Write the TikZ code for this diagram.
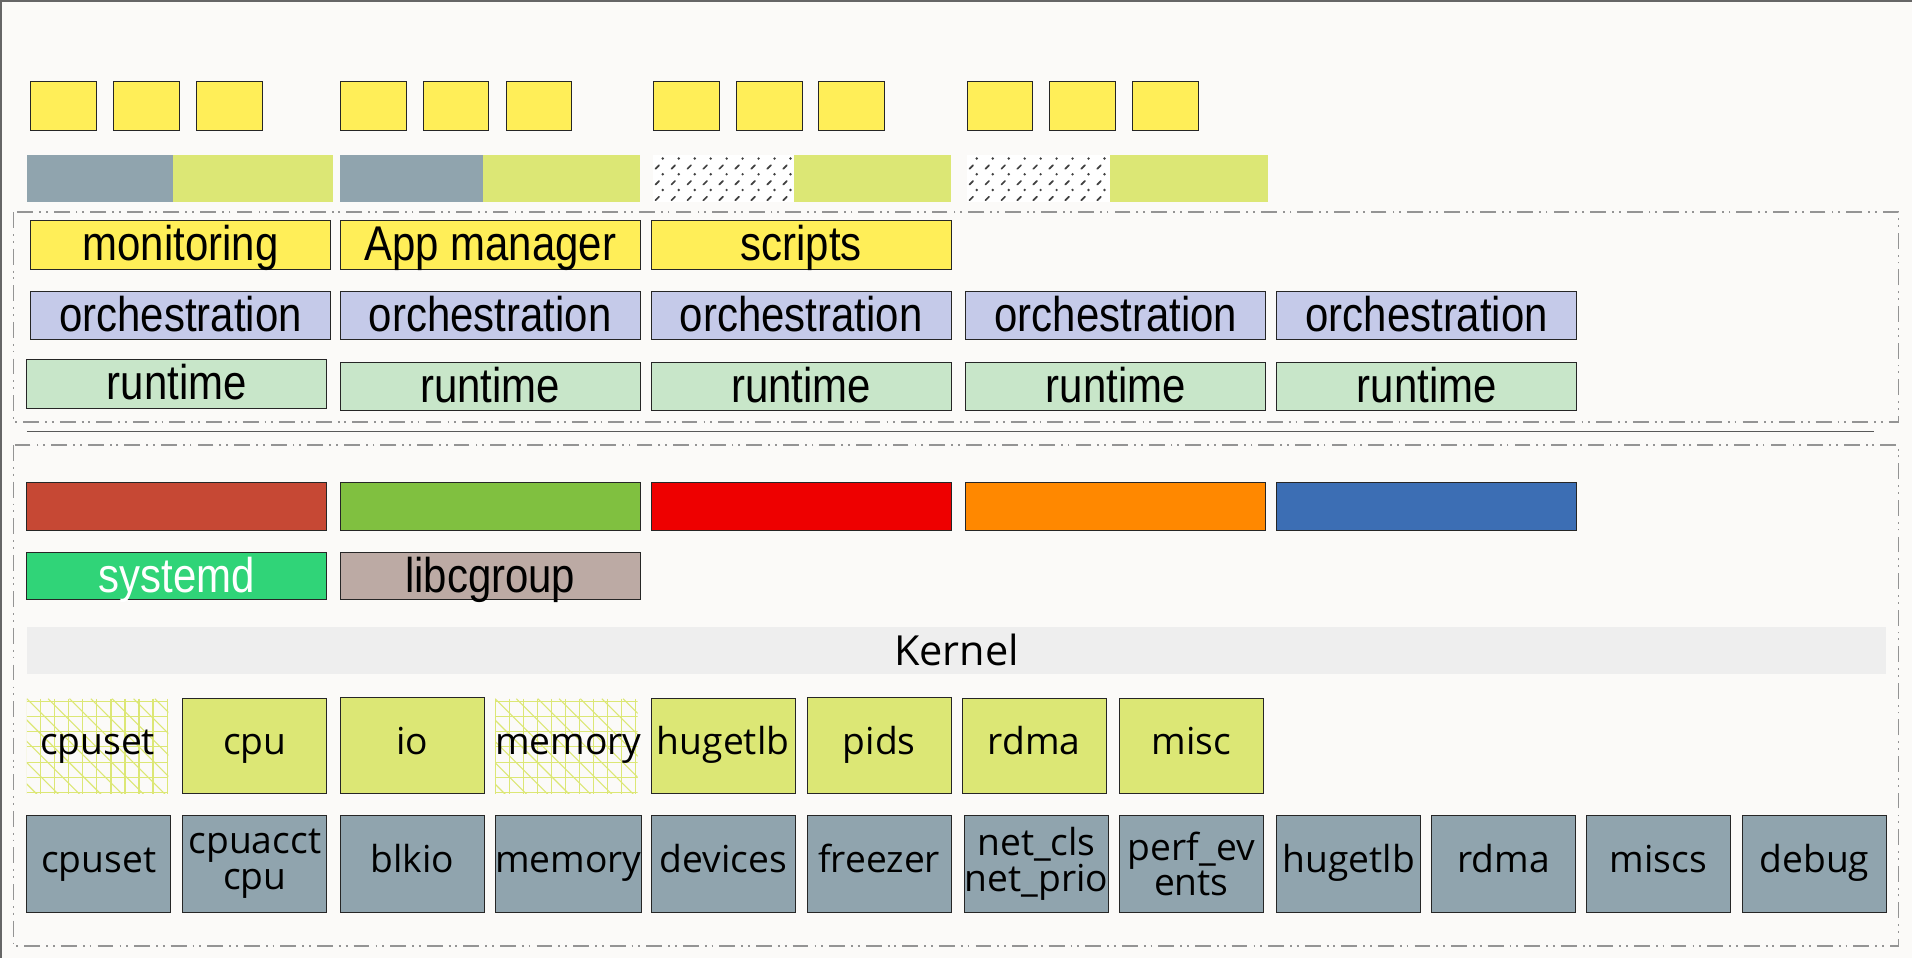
\documentclass[tikz,border=0pt]{standalone}
\usepackage{fontspec}
\setmainfont{Open Sans}
\newfontfamily\narrowfont{Liberation Sans}[FakeStretch=0.86]
\definecolor{cbg}{HTML}{FBFAF8}
\definecolor{cyel}{HTML}{FFEE58}
\definecolor{cgb}{HTML}{90A4AE}
\definecolor{cyg}{HTML}{DCE775}
\definecolor{clav}{HTML}{C5CAE9}
\definecolor{cmint}{HTML}{C8E6C9}
\definecolor{cbrick}{HTML}{C64834}
\definecolor{cgrass}{HTML}{80C040}
\definecolor{cred}{HTML}{EE0000}
\definecolor{corange}{HTML}{FF8800}
\definecolor{cblue}{HTML}{3C6EB4}
\definecolor{csysd}{HTML}{30D478}
\definecolor{clib}{HTML}{BCAAA4}
\definecolor{ckern}{HTML}{EEEEEE}
\newcommand\mybox[7]{\node[#2, anchor=north west, minimum width={(#5)-(#3)}, minimum height={(#6)-(#4)}] (#1) at (#3,#4) {#7};}
\newcommand\hatchpat[4]{%
  \begin{scope}
    \clip (#1,#2) rectangle (#3,#4);
    \foreach \i in {0,...,12} {\draw[hatchline] ({#1+\i*11.5},#2) -- ++(0,{#4-#2});}
    \foreach \j in {0,...,8} {\draw[hatchline] (#1,{#2+2+\j*12.5}) -- ++({#3-#1},0);}
    \foreach \k in {-6,...,8} {\draw[hatchline] ({#1+\k*17.5},#2) -- ++(90,90);}
  \end{scope}}
\newcommand\dotpat[4]{%
  \begin{scope}
    \fill[white] (#1,#2) rectangle (#3,#4);
    \clip (#1,#2) rectangle (#3,#4);
    \foreach \r in {0,...,3} {
      \foreach \c in {0,...,9} {
        \fill[black!75] ({#1+8+\c*13.1},{#2+3+\r*12.9}) circle (1.1);
        \draw[black!75, line width=1.4pt, line cap=round] ({#1+2+\c*13.1},{#2+11.5+\r*12.9}) -- ++(3,-3);
      }}
  \end{scope}}
\begin{document}
\begin{tikzpicture}[x=1pt, y=-1pt,
  bxs/.style={draw=black!85, line width=0.8pt, inner sep=0pt, outer sep=0pt},
  plain/.style={inner sep=0pt, outer sep=0pt},
  sq/.style={bxs, fill=cyel},
  nlab/.style={font=\narrowfont\fontsize{40}{44}\selectfont, text height=29pt, text depth=3pt},
  olab/.style={font=\fontsize{30.5}{29.5}\selectfont, text height=22pt, text depth=8pt},
  olab2/.style={font=\fontsize{30.5}{29.5}\selectfont, align=center},
  hatchline/.style={draw=cyg, line width=0.9pt},
  dashbox/.style={draw=black!42, line width=1.3pt, dash pattern=on 13pt off 5pt on 1.5pt off 4pt on 1.5pt off 5pt},
  frame/.style={draw=black!60, line width=1.5pt}]
\useasboundingbox (0,0) rectangle (1568,785.6);
\fill[cbg] (0,0) rectangle (1568,785.6);
\draw[frame] (1,785.6) -- (1,0.7) -- (1568,0.7);

% row 1: yellow squares
\mybox{s1}{sq}{25}{67}{79}{107}{}
\mybox{s2}{sq}{93}{67}{147}{107}{}
\mybox{s3}{sq}{161}{67}{215}{107}{}
\mybox{s4}{sq}{279}{67}{333}{107}{}
\mybox{s5}{sq}{347}{67}{401}{107}{}
\mybox{s6}{sq}{415}{67}{469}{107}{}
\mybox{s7}{sq}{536}{67}{590}{107}{}
\mybox{s8}{sq}{604}{67}{658}{107}{}
\mybox{s9}{sq}{671}{67}{725}{107}{}
\mybox{s10}{sq}{793}{67}{847}{107}{}
\mybox{s11}{sq}{861}{67}{915}{107}{}
\mybox{s12}{sq}{929}{67}{983}{107}{}

% row 2: bars
\mybox{b1a}{plain, fill=cgb}{22}{127}{142}{166}{}
\mybox{b1b}{plain, fill=cyg}{142}{127}{273}{166}{}
\mybox{b2a}{plain, fill=cgb}{279}{127}{396}{166}{}
\mybox{b2b}{plain, fill=cyg}{396}{127}{525}{166}{}
\dotpat{535.5}{127}{651}{166}
\mybox{b3a}{plain}{535.5}{127}{651}{166}{}
\mybox{b3b}{plain, fill=cyg}{651}{127}{780}{166}{}
\dotpat{793}{127}{910}{166}
\mybox{b4a}{plain}{793}{127}{910}{166}{}
\mybox{b4b}{plain, fill=cyg}{910}{127}{1040}{166}{}

% upper dash-dot container
\draw[dashbox] (11,174) rectangle (1557,346);
\mybox{mon}{bxs, fill=cyel, nlab}{25}{181}{271}{221}{monitoring}
\mybox{app}{bxs, fill=cyel, nlab}{279}{181}{525}{221}{App manager}
\mybox{scr}{bxs, fill=cyel, nlab}{534}{181}{780}{221}{scripts}
\mybox{o1}{bxs, fill=clav, nlab}{25}{239}{271}{278}{orchestration}
\mybox{o2}{bxs, fill=clav, nlab}{279}{239}{525}{278}{orchestration}
\mybox{o3}{bxs, fill=clav, nlab}{534}{239}{780}{278}{orchestration}
\mybox{o4}{bxs, fill=clav, nlab}{792}{239}{1038}{278}{orchestration}
\mybox{o5}{bxs, fill=clav, nlab}{1047}{239}{1293}{278}{orchestration}
\mybox{r1}{bxs, fill=cmint, nlab}{22}{295}{268}{335}{runtime}
\mybox{r2}{bxs, fill=cmint, nlab}{279}{297}{525}{337}{runtime}
\mybox{r3}{bxs, fill=cmint, nlab}{534}{297}{780}{337}{runtime}
\mybox{r4}{bxs, fill=cmint, nlab}{792}{297}{1038}{337}{runtime}
\mybox{r5}{bxs, fill=cmint, nlab}{1047}{297}{1293}{337}{runtime}

% separator
\draw[draw=black!65, line width=1.2pt] (22,354) -- (1537,354);

% lower dash-dot container
\draw[dashbox] (11,365) rectangle (1557,776);
\mybox{c1}{bxs, fill=cbrick}{22}{396}{268}{435}{}
\mybox{c2}{bxs, fill=cgrass}{279}{396}{525}{435}{}
\mybox{c3}{bxs, fill=cred}{534}{396}{780}{435}{}
\mybox{c4}{bxs, fill=corange}{792}{396}{1038}{435}{}
\mybox{c5}{bxs, fill=cblue}{1047}{396}{1293}{435}{}
\mybox{sysd}{bxs, fill=csysd, nlab, text=white}{22}{453}{268}{492}{systemd}
\mybox{libcg}{bxs, fill=clib, nlab}{279}{453}{525}{492}{libcgroup}
\mybox{kern}{plain, fill=ckern, font=\fontsize{34}{40}\selectfont, text height=25pt, text depth=0pt}{22}{514}{1547}{553}{Kernel}

% cgroup v2 controllers
\hatchpat{22}{573}{138}{651}
\mybox{v1}{plain, olab}{22}{573}{138}{651}{cpuset}
\mybox{v2}{bxs, fill=cyg, olab}{150}{573}{268}{651}{cpu}
\mybox{v3}{bxs, fill=cyg, olab}{279}{572}{397}{651}{io}
\hatchpat{406}{573}{523}{651}
\mybox{v4}{plain, olab}{406}{573}{523}{651}{memory}
\mybox{v5}{bxs, fill=cyg, olab}{534}{573}{652}{651}{hugetlb}
\mybox{v6}{bxs, fill=cyg, olab}{662}{572}{780}{651}{pids}
\mybox{v7}{bxs, fill=cyg, olab}{789}{573}{907}{651}{rdma}
\mybox{v8}{bxs, fill=cyg, olab}{918}{573}{1036}{651}{misc}

% cgroup v1 controllers
\mybox{w1}{bxs, fill=cgb, olab}{22}{669}{140}{748}{cpuset}
\mybox{w2}{bxs, fill=cgb, olab2}{150}{669}{268}{748}{cpuacct\\cpu}
\mybox{w3}{bxs, fill=cgb, olab}{279}{669}{397}{748}{blkio}
\mybox{w4}{bxs, fill=cgb, olab}{406}{669}{524}{748}{memory}
\mybox{w5}{bxs, fill=cgb, olab}{534}{669}{652}{748}{devices}
\mybox{w6}{bxs, fill=cgb, olab}{662}{669}{780}{748}{freezer}
\mybox{w7}{bxs, fill=cgb, olab2}{791}{669}{909}{748}{net\_cls\\net\_prio}
\mybox{w8}{bxs, fill=cgb, olab2}{918}{669}{1036}{748}{perf\_ev\\ents}
\mybox{w9}{bxs, fill=cgb, olab}{1047}{669}{1165}{748}{hugetlb}
\mybox{w10}{bxs, fill=cgb, olab}{1174}{669}{1292}{748}{rdma}
\mybox{w11}{bxs, fill=cgb, olab}{1301}{669}{1419}{748}{miscs}
\mybox{w12}{bxs, fill=cgb, olab}{1429}{669}{1547}{748}{debug}
\end{tikzpicture}
\end{document}
